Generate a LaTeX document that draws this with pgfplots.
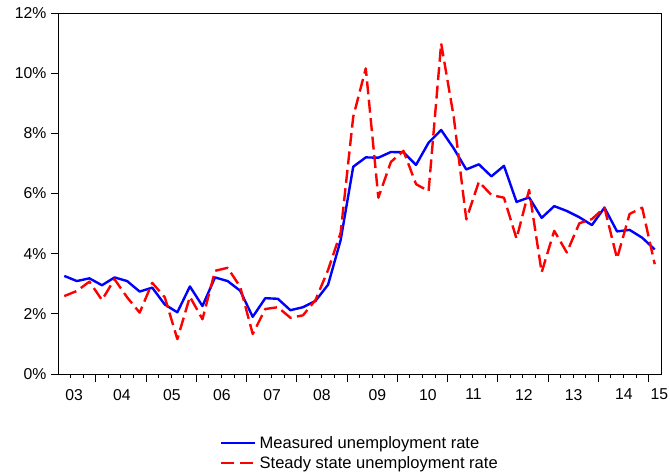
\documentclass[border=0pt]{standalone}
\usepackage{pgfplots}
\pgfplotsset{compat=1.18}
\usepackage{pgfplotstable}
\usepackage{fontspec}
\setmainfont{Liberation Sans}
\pgfplotstableread{
x blue red
2003.375 3.26 2.59
2003.625 3.09 2.76
2003.875 3.18 3.07
2004.125 2.95 2.46
2004.375 3.21 3.15
2004.625 3.09 2.55
2004.875 2.74 2.04
2005.125 2.87 3.03
2005.375 2.31 2.55
2005.625 2.05 1.16
2005.875 2.91 2.57
2006.125 2.26 1.82
2006.375 3.21 3.43
2006.625 3.09 3.53
2006.875 2.77 2.90
2007.125 1.90 1.33
2007.375 2.52 2.16
2007.625 2.50 2.22
2007.875 2.12 1.87
2008.125 2.22 1.95
2008.375 2.43 2.46
2008.625 2.97 3.46
2008.875 4.45 4.70
2009.125 6.89 8.55
2009.375 7.20 10.16
2009.625 7.19 5.86
2009.875 7.38 7.05
2010.125 7.37 7.42
2010.375 6.95 6.31
2010.625 7.69 6.08
2010.875 8.11 10.99
2011.125 7.50 8.55
2011.375 6.80 5.14
2011.625 6.97 6.39
2011.875 6.57 5.95
2012.125 6.92 5.86
2012.375 5.72 4.50
2012.625 5.87 6.12
2012.875 5.19 3.38
2013.125 5.58 4.76
2013.375 5.42 4.04
2013.625 5.21 5.01
2013.875 4.95 5.15
2014.125 5.53 5.53
2014.375 4.74 3.84
2014.625 4.79 5.32
2014.875 4.53 5.53
2015.125 4.14 3.65
}\datatable
\begin{document}
\begin{tikzpicture}
\useasboundingbox (-58bp,-99bp) rectangle (612bp,374bp);
\begin{axis}[
  scale only axis,
  width=603bp, height=361bp,
  at={(0,0)}, anchor=south west,
  xmin=2003.25, xmax=2015.25,
  ymin=0, ymax=12,
  axis line style={line width=0.8bp},
  tick align=outside,
  xtick pos=bottom, ytick pos=left,
  xtick={2003.57,2004.52,2005.515,2006.51,2007.51,2008.5,2009.605,2010.61,2011.52,2012.52,2013.51,2014.51,2015.22},
  xticklabels={03,04,05,06,07,08,09,10,11,12,13,14,15},
  major x tick style={draw=none},
  minor xtick={2003.5,2003.75,2004.25,2004.5,2004.75,2005.25,2005.5,2005.75,2006.25,2006.5,2006.75,2007.25,2007.5,2007.75,2008.25,2008.5,2008.75,2009.25,2009.5,2009.75,2010.25,2010.5,2010.75,2011.25,2011.5,2011.75,2012.25,2012.5,2012.75,2013.25,2013.5,2013.75,2014.25,2014.5,2014.75},
  minor tick length=3.5bp,
  minor tick style={black, line width=0.7bp},
  extra x ticks={2004,2005,2006,2007,2008,2009,2010,2011,2012,2013,2014,2015},
  extra x tick labels={},
  extra x tick style={major tick length=7.5bp, major x tick style={draw=black, line width=0.8bp}},
  ytick={0,2,4,6,8,10,12},
  major tick length=7bp,
  ytick style={black, line width=0.8bp},
  yticklabel={\pgfmathprintnumber{\tick}\%},
  /pgf/number format/assume math mode=true,
  tick label style={font=\fontsize{15.8}{18}\selectfont},
  xticklabel style={yshift=-4.5bp},
  yticklabel style={xshift=-1bp},
  legend style={at={(rel axis cs:0.2687,-0.163)}, anchor=north west, draw=none, fill=none,
    inner sep=0pt, row sep=0pt,
    font=\fontsize{16.6}{19}\selectfont,
    nodes={text height=12bp, text depth=2bp, inner sep=3bp}},
  legend cell align=left,
  legend image code/.code={\draw[#1] (0bp,0bp) -- (34bp,0bp);},
]
\addplot[blue, line width=2.4bp, line join=round] table[x=x, y=blue] {\datatable};
\addlegendentry{Measured unemployment rate}
\addplot[red, line width=2.4bp, dash pattern=on 13bp off 5.5bp, line join=round] table[x=x, y=red] {\datatable};
\addlegendentry{Steady state unemployment rate}
\end{axis}
\end{tikzpicture}
\end{document}
